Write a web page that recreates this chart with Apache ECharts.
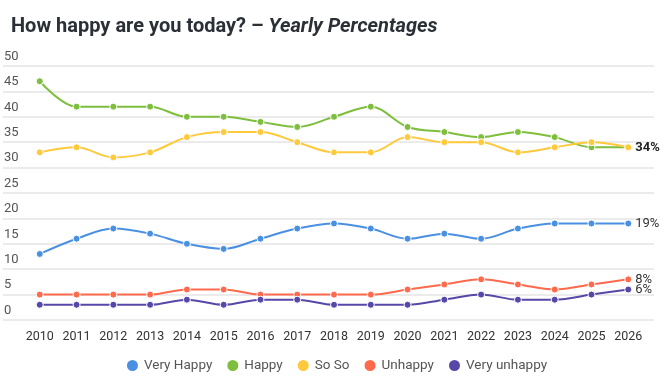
<!DOCTYPE html>
<html>
<head>
<meta charset="utf-8">
<script src="https://cdn.jsdelivr.net/npm/echarts@6/dist/echarts.min.js"></script>
<style>html,body{margin:0;padding:0;background:#fff}#c{width:672px;height:380px}</style>
</head>
<body>
<div id="c"></div>
<script>
var years = [2010,2011,2012,2013,2014,2015,2016,2017,2018,2019,2020,2021,2022,2023,2024,2025,2026];
var veryHappy = [13,16,18,17,15,14,16,18,19,18,16,17,16,18,19,19,19];
var happy = [47,42,42,42,40,40,39,38,40,42,38,37,36,37,36,34,34];
var soSo = [33,34,32,33,36,37,37,35,33,33,36,35,35,33,34,35,34];
var unhappy = [5,5,5,5,6,6,5,5,5,5,6,7,8,7,6,7,8];
var veryUnhappy = [3,3,3,3,4,3,4,4,3,3,3,4,5,4,4,5,6];
var yTicks = [0,5,10,15,20,25,30,35,40,45,50];

function pairs(vals){ return years.map(function(y,i){ return [y, vals[i]]; }); }

function mk(name, vals, color, endLbl, bold){
  return {
    name: name, type: 'line', data: pairs(vals), smooth: 0.35,
    symbol: 'circle', symbolSize: 7,
    lineStyle: { width: 2, color: color },
    itemStyle: { color: color, borderColor: '#fff', borderWidth: 1 },
    endLabel: {
      show: endLbl, distance: 7,
      formatter: function(p){ return p.value[1] + '%'; },
      fontSize: 13, fontFamily: 'Roboto', color: bold ? '#222' : '#333',
      fontWeight: bold ? 'bold' : 'normal'
    },
    emphasis: { disabled: true }, animation: false
  };
}

var chart = echarts.init(document.getElementById('c'), null, {renderer: 'canvas'});
chart.setOption({
  animation: false,
  title: {
    left: 6, top: 12,
    text: '{a|How happy are you today? – }{b|Yearly Percentages}',
    textStyle: {
      rich: {
        a: { fontSize: 20, fontWeight: 'bold', color: '#2b2f36', fontFamily: 'Roboto' },
        b: { fontSize: 20, fontWeight: 'bold', fontStyle: 'italic', color: '#2b2f36', fontFamily: 'Roboto' }
      }
    }
  },
  legend: {
    bottom: 2, left: 'center', icon: 'circle', itemWidth: 13, itemHeight: 13, itemGap: 13,
    textStyle: { fontSize: 13.5, color: '#555', fontFamily: 'Roboto' },
    data: ['Very Happy','Happy','So So','Unhappy','Very unhappy']
  },
  grid: { left: 3, right: 18, top: 66, bottom: 60, containLabel: false },
  xAxis: {
    type: 'value', min: 2009, max: 2026.7, interval: 1,
    axisLine: { show: false }, axisTick: { show: false }, splitLine: { show: false },
    axisLabel: {
      margin: 10, fontSize: 12.5, color: '#333', fontFamily: 'Roboto',
      showMinLabel: false, showMaxLabel: false,
      formatter: function(v){ return years.indexOf(v) >= 0 ? String(v) : ''; }
    }
  },
  yAxis: {
    type: 'value', min: yTicks[0], max: yTicks[yTicks.length-1], interval: 5,
    axisLine: { show: false }, axisTick: { show: false },
    splitLine: { lineStyle: { color: '#e4e4e4', width: 1.5 } },
    axisLabel: {
      inside: true, margin: 1, verticalAlign: 'bottom', padding: [0,0,3,0],
      fontSize: 13, color: '#555', fontFamily: 'Roboto'
    }
  },
  series: [
    mk('Very Happy', veryHappy, '#4a90e2', true, false),
    mk('Happy', happy, '#7dbe3c', false, false),
    mk('So So', soSo, '#ffc93c', true, true),
    mk('Unhappy', unhappy, '#ff6a4d', true, false),
    mk('Very unhappy', veryUnhappy, '#5548a8', true, false)
  ]
});
</script>
</body>
</html>
